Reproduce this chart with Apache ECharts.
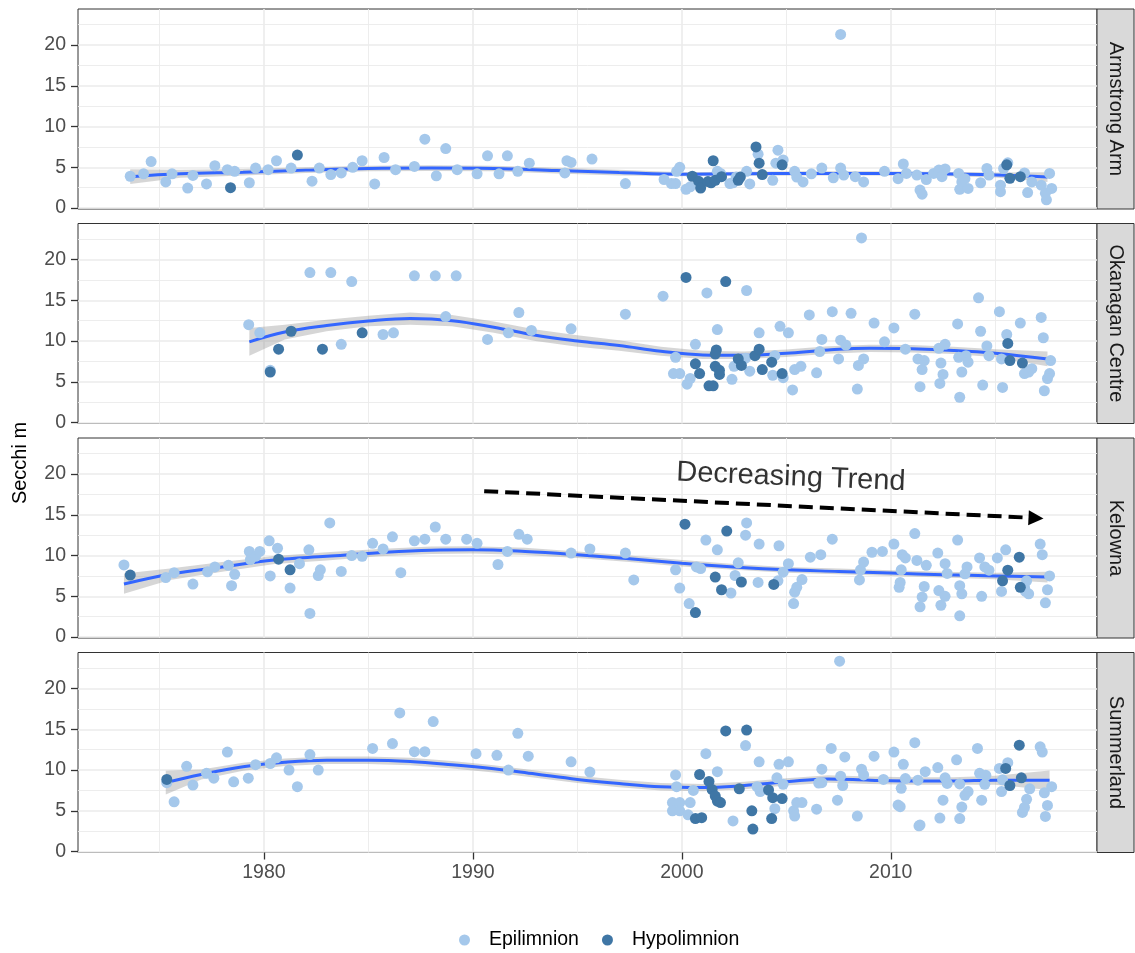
<!DOCTYPE html>
<html><head><meta charset="utf-8">
<script src="https://cdn.jsdelivr.net/npm/echarts@6.0.0/dist/echarts.min.js"></script>
<style>html,body{margin:0;padding:0;background:#fff}#c{width:1135px;height:953px}</style>
</head><body><div id="c"></div>
<script>
const FONT = '"Liberation Sans", Arial, sans-serif';
const sites = ['Armstrong Arm', 'Okanagan Centre', 'Kelowna', 'Summerland'];
const xMajor = [1980, 1990, 2000, 2010];
const xMinor = [1975, 1985, 1995, 2005, 2015];
const yMajor = [0, 5, 10, 15, 20];
const yMinor = [2.5, 7.5, 12.5, 17.5, 22.5];
const XMIN = 1971.10, XMAX = 2019.87, YMIN = -0.12, YMAX = 24.42;

// ---- Armstrong Arm ----
const armEpi = [[1973.6,3.9],[1974.24,4.2],[1974.6,5.7],[1975.3,3.2],[1975.6,4.2],[1976.35,2.45],[1976.6,4.0],[1977.25,2.95],[1977.65,5.2],[1978.25,4.7],[1978.6,4.5],[1979.3,3.1],[1979.6,4.9],[1980.2,4.7],[1980.6,5.8],[1981.3,4.9],[1982.3,3.3],[1982.65,4.9],[1983.2,4.1],[1983.7,4.3],[1984.25,5.0],[1984.7,5.8],[1985.3,2.95],[1985.75,6.2],[1986.3,4.7],[1987.2,5.1],[1987.7,8.45],[1988.25,3.95],[1988.7,7.3],[1989.25,4.7],[1990.2,4.2],[1990.7,6.4],[1991.25,4.2],[1991.65,6.4],[1992.15,4.5],[1992.7,5.5],[1994.4,4.3],[1994.5,5.8],[1994.7,5.6],[1995.7,6.0],[1997.3,3.0],[1999.15,3.5],[1999.5,3.0],[1999.7,3.0],[1999.75,4.5],[1999.9,5.0],[2000.2,2.3],[2000.4,2.6],[2001.7,4.5],[2001.85,4.25],[2002.3,3.0],[2002.45,3.1],[2002.6,3.8],[2003.1,4.5],[2003.25,2.95],[2003.65,6.6],[2004.35,3.4],[2004.5,5.5],[2004.6,7.1],[2004.85,5.9],[2005.4,4.5],[2005.5,3.8],[2005.8,3.2],[2006.2,4.2],[2006.7,4.9],[2007.25,3.7],[2007.6,4.9],[2007.75,4.05],[2007.6,21.3],[2008.3,3.85],[2008.7,3.2],[2009.7,4.5],[2010.35,3.6],[2010.6,5.4],[2010.75,4.25],[2011.25,4.05],[2011.4,2.2],[2011.5,1.7],[2011.7,3.5],[2012.05,4.25],[2012.3,4.65],[2012.45,3.85],[2012.6,4.8],[2013.25,4.25],[2013.3,2.3],[2013.4,3.2],[2013.55,3.6],[2013.7,2.4],[2014.3,3.1],[2014.6,4.85],[2014.7,4.05],[2015.25,2.0],[2015.25,2.8],[2015.4,4.85],[2015.6,5.55],[2016.4,4.3],[2016.55,1.9],[2016.75,3.2],[2017.2,2.8],[2017.4,1.8],[2017.45,1.0],[2017.6,4.25],[2017.7,2.4]];
const armHyp = [[1978.4,2.5],[1981.6,6.5],[2000.5,3.9],[2000.8,3.3],[2000.9,2.45],[2001.25,3.25],[2001.4,3.1],[2001.5,5.8],[2001.6,3.4],[2001.9,3.85],[2002.7,3.4],[2002.8,3.8],[2003.55,7.5],[2003.7,5.5],[2003.85,4.1],[2004.8,5.3],[2015.55,5.3],[2015.7,3.65],[2016.2,3.85]];
const armFitX = [1973.6,1976,1979,1982,1985,1988,1991,1994,1997,2000,2003,2006,2009,2012,2015,2017.5];
const armFit  = [3.85,4.2,4.4,4.65,4.85,4.9,4.85,4.6,4.35,4.15,4.2,4.25,4.25,4.2,4.05,3.8];
const armLo   = [2.95,3.7,4.0,4.3,4.5,4.55,4.5,4.25,4.0,3.9,3.95,4.0,4.0,3.95,3.75,3.2];
const armHi   = [4.75,4.7,4.8,5.0,5.2,5.25,5.2,4.95,4.7,4.4,4.45,4.5,4.5,4.45,4.35,4.4];

// ---- Okanagan Centre ----
const okaEpi = [[1979.27,12.0],[1979.8,11.0],[1980.3,6.4],[1982.2,18.4],[1983.2,18.4],[1983.7,9.6],[1984.2,17.3],[1985.7,10.8],[1986.2,11.0],[1987.2,18.0],[1988.2,18.0],[1988.7,13.0],[1989.2,18.0],[1990.7,10.2],[1991.7,11.0],[1992.2,13.5],[1992.8,11.3],[1994.7,11.5],[1997.3,13.3],[1999.1,15.5],[1999.7,8.0],[1999.6,6.0],[1999.9,6.0],[2000.25,4.7],[2000.4,5.4],[2000.65,9.6],[2001.2,15.9],[2001.7,11.4],[2002.4,5.3],[2002.5,6.9],[2003.1,16.2],[2003.05,7.9],[2003.25,6.3],[2003.7,11.0],[2004.45,8.2],[2004.35,5.8],[2004.7,11.8],[2004.85,5.5],[2005.1,11.0],[2005.3,4.0],[2005.4,6.5],[2005.7,6.9],[2006.1,13.2],[2006.45,6.1],[2006.6,8.7],[2006.7,10.2],[2007.2,13.6],[2007.5,7.8],[2007.6,10.1],[2007.85,9.5],[2008.1,13.4],[2008.4,4.1],[2008.45,7.0],[2008.7,7.8],[2008.6,22.65],[2009.2,12.2],[2009.7,9.9],[2010.15,11.6],[2010.7,9.0],[2011.15,13.3],[2011.3,7.8],[2011.5,6.5],[2011.4,4.4],[2011.6,7.6],[2012.35,4.8],[2012.4,7.3],[2012.5,5.9],[2012.3,9.1],[2012.6,9.6],[2013.2,12.1],[2013.3,3.1],[2013.4,6.2],[2013.25,8.0],[2013.6,8.2],[2013.7,7.4],[2014.2,15.3],[2014.3,11.2],[2014.4,4.6],[2014.6,9.4],[2014.7,8.2],[2015.2,13.6],[2015.3,7.8],[2015.35,4.3],[2015.55,10.8],[2016.2,12.2],[2016.4,6.0],[2016.6,6.2],[2016.75,6.6],[2017.2,12.9],[2017.3,10.4],[2017.65,7.6],[2017.6,6.0],[2017.5,5.4],[2017.35,3.9]];
const okaHyp = [[1980.3,6.2],[1980.7,9.0],[1981.3,11.2],[1982.8,9.0],[1984.7,11.0],[2000.2,17.8],[2000.65,7.2],[2000.85,6.0],[2001.3,4.5],[2001.5,4.5],[2001.65,8.9],[2001.6,8.4],[2001.6,6.9],[2001.8,6.4],[2001.8,5.9],[2002.1,17.3],[2002.7,7.8],[2002.85,7.0],[2003.5,8.2],[2003.7,9.0],[2003.85,6.5],[2004.3,7.4],[2004.8,6.0],[2015.6,9.7],[2015.7,7.6],[2016.3,7.3]];
const okaFitX = [1979.3,1981,1983,1985,1987,1989,1991,1993,1995,1997,1999,2001,2003,2005,2007,2009,2011,2013,2015,2017.5];
const okaFit  = [9.9,11.1,11.9,12.45,12.75,12.5,11.7,10.7,10.0,9.45,8.75,8.3,8.25,8.5,8.9,9.1,9.05,8.85,8.5,7.8];
const okaLo   = [8.2,10.2,11.2,11.8,12.0,11.8,11.0,10.0,9.3,8.8,8.2,7.8,7.8,8.05,8.45,8.65,8.6,8.4,8.0,6.9];
const okaHi   = [11.6,12.0,12.6,13.1,13.5,13.2,12.4,11.4,10.7,10.1,9.3,8.8,8.7,8.95,9.35,9.55,9.5,9.3,9.0,8.7];

// ---- Kelowna ----
const kelEpi = [[1973.3,8.85],[1975.3,7.3],[1975.7,7.9],[1976.6,6.5],[1977.3,8.0],[1977.65,8.6],[1978.3,8.8],[1978.45,6.3],[1978.6,7.7],[1979.3,10.5],[1979.35,9.5],[1979.6,9.9],[1979.8,10.5],[1980.25,11.8],[1980.3,7.5],[1980.65,10.9],[1981.25,6.0],[1981.7,9.0],[1982.15,10.7],[1982.2,2.9],[1982.6,7.55],[1982.7,8.25],[1983.15,14.0],[1983.7,8.05],[1984.2,10.0],[1984.7,9.9],[1985.2,11.5],[1985.7,10.8],[1986.15,12.3],[1986.55,7.9],[1987.2,11.8],[1987.7,12.0],[1988.2,13.5],[1988.7,12.0],[1989.7,12.0],[1990.2,11.5],[1991.2,8.9],[1991.65,10.5],[1992.2,12.6],[1992.6,12.0],[1994.7,10.3],[1995.6,10.8],[1997.3,10.3],[1997.7,7.0],[1999.7,8.25],[1999.9,6.0],[2000.35,4.1],[2000.7,8.6],[2000.9,8.4],[2001.15,11.9],[2001.7,10.7],[2002.35,5.4],[2002.55,7.55],[2002.7,9.1],[2003.05,12.5],[2003.1,14.0],[2003.65,6.7],[2003.7,11.4],[2004.6,6.9],[2004.65,11.2],[2004.85,7.95],[2005.1,9.0],[2005.35,4.1],[2005.4,5.5],[2005.5,6.1],[2005.75,7.05],[2006.15,9.8],[2006.65,10.1],[2007.2,12.0],[2008.5,7.0],[2008.55,8.25],[2008.7,9.2],[2009.1,10.4],[2009.6,10.5],[2010.15,11.4],[2010.4,6.1],[2010.45,6.7],[2010.5,8.25],[2010.55,10.1],[2010.7,9.7],[2011.15,12.7],[2011.25,9.4],[2011.7,8.8],[2011.4,3.7],[2011.5,4.9],[2011.6,6.2],[2012.25,10.3],[2012.3,5.7],[2012.4,3.9],[2012.6,5.0],[2012.6,9.0],[2012.7,7.8],[2013.2,11.9],[2013.3,6.3],[2013.4,5.3],[2013.3,2.6],[2013.55,7.75],[2013.65,8.6],[2014.25,9.7],[2014.35,5.0],[2014.5,8.6],[2014.7,8.2],[2015.1,9.7],[2015.5,10.7],[2015.3,5.6],[2016.4,6.1],[2016.5,6.9],[2016.6,5.3],[2016.45,5.6],[2017.15,11.4],[2017.25,10.1],[2017.5,5.8],[2017.4,4.2],[2017.6,7.5]];
const kelHyp = [[1973.6,7.6],[1980.7,9.55],[1981.25,8.25],[2000.15,13.85],[2000.65,3.0],[2001.6,7.35],[2001.9,5.8],[2002.15,13.0],[2002.85,6.75],[2004.4,6.45],[2015.35,6.9],[2015.6,8.2],[2016.15,9.8],[2016.2,6.1]];
const kelFitX = [1973.3,1975.5,1978,1980.5,1983,1985.5,1988,1990,1992.5,1995,1997.5,2000,2002.5,2005,2007.5,2010,2012.5,2015,2017.5];
const kelFit  = [6.5,7.7,8.6,9.45,9.9,10.35,10.65,10.7,10.5,10.1,9.6,9.05,8.6,8.25,8.05,7.85,7.65,7.5,7.35];
const kelLo   = [5.3,7.0,8.0,8.95,9.4,9.9,10.2,10.25,10.05,9.7,9.2,8.65,8.25,7.9,7.7,7.5,7.3,7.1,6.7];
const kelHi   = [7.8,8.4,9.2,9.95,10.4,10.8,11.1,11.15,10.95,10.5,10.0,9.45,8.95,8.6,8.4,8.2,8.0,7.9,8.0];

// ---- Summerland ----
const sumEpi = [[1975.35,8.45],[1975.7,6.1],[1976.3,10.45],[1976.6,8.15],[1977.25,9.6],[1977.6,9.0],[1978.25,12.2],[1978.55,8.55],[1979.25,9.0],[1979.6,10.65],[1980.3,10.8],[1980.6,11.5],[1981.2,10.0],[1981.6,7.95],[1982.2,11.9],[1982.6,10.0],[1985.2,12.65],[1986.15,13.25],[1986.5,17.0],[1987.2,12.25],[1987.7,12.25],[1988.1,15.95],[1990.15,12.0],[1991.15,11.8],[1991.7,10.0],[1992.15,14.5],[1992.65,11.7],[1994.7,11.0],[1995.6,9.75],[1999.7,9.4],[1999.75,7.95],[1999.55,6.0],[1999.9,6.0],[1999.55,5.0],[1999.9,5.0],[2000.3,4.5],[2000.4,6.0],[2000.55,7.5],[2001.15,12.0],[2001.7,9.8],[2002.45,3.75],[2003.05,13.0],[2003.6,7.95],[2003.75,7.35],[2003.7,11.0],[2004.45,5.25],[2004.55,9.05],[2004.85,8.25],[2004.65,10.7],[2005.1,11.0],[2005.35,5.0],[2005.4,4.35],[2005.5,6.0],[2005.75,6.0],[2006.45,5.2],[2006.55,8.4],[2006.7,8.45],[2006.7,10.1],[2007.15,12.65],[2007.45,6.3],[2007.55,23.35],[2007.6,9.25],[2007.7,8.1],[2007.8,11.6],[2008.4,4.35],[2008.6,10.1],[2008.7,9.4],[2009.2,11.7],[2009.65,8.85],[2010.15,12.2],[2010.35,5.7],[2010.45,5.5],[2010.5,7.75],[2010.6,10.7],[2010.7,8.95],[2011.15,13.35],[2011.3,8.75],[2011.65,9.8],[2011.35,3.15],[2011.4,3.25],[2012.25,10.3],[2012.35,4.1],[2012.5,6.3],[2012.6,9.05],[2012.7,8.35],[2013.15,11.25],[2013.3,8.3],[2013.3,4.05],[2013.4,5.45],[2013.55,6.9],[2013.7,7.35],[2014.15,12.65],[2014.25,9.6],[2014.55,9.35],[2014.5,8.25],[2014.35,6.3],[2015.2,10.2],[2015.3,7.35],[2015.35,8.8],[2015.6,10.9],[2016.3,4.8],[2016.4,5.4],[2016.5,6.4],[2016.65,7.7],[2017.15,12.85],[2017.25,12.2],[2017.35,7.2],[2017.5,5.65],[2017.4,4.3],[2017.7,7.95]];
const sumHyp = [[1975.35,8.85],[2000.65,4.05],[2000.95,4.15],[2000.85,9.45],[2001.3,8.6],[2001.45,7.6],[2001.6,6.8],[2001.7,6.2],[2001.85,6.0],[2002.1,14.8],[2002.75,7.7],[2003.1,14.9],[2003.35,5.0],[2003.4,2.75],[2004.15,7.55],[2004.35,6.6],[2004.8,6.5],[2004.3,4.05],[2015.5,10.2],[2015.7,8.1],[2016.15,13.05],[2016.25,9.05]];
const sumFitX = [1975.3,1977,1979,1981,1983,1985,1987,1989,1991,1993,1995,1997,1999,2001,2003,2005,2007,2009,2011,2013,2015,2017.6];
const sumFit  = [8.45,9.45,10.4,10.95,11.2,11.2,11.05,10.65,10.15,9.5,8.85,8.35,7.95,7.85,8.1,8.55,8.9,8.75,8.65,8.65,8.75,8.75];
const sumLo   = [7.0,8.85,9.9,10.5,10.75,10.75,10.6,10.2,9.7,9.05,8.4,7.9,7.5,7.4,7.65,8.1,8.45,8.3,8.2,8.2,8.2,7.55];
const sumHi   = [9.9,10.05,10.9,11.4,11.65,11.65,11.5,11.1,10.6,9.95,9.3,8.8,8.4,8.3,8.55,9.0,9.35,9.2,9.1,9.1,9.3,9.95];

// annotation (Kelowna panel)
const arrowFrom = [1990.54, 17.9];
const arrowTo = [2016.95, 14.6];
const noteAt = [2005.22, 19.6];
const noteText = 'Decreasing Trend';

const panels = [
  {epi: armEpi, hyp: armHyp, fx: armFitX, fit: armFit, lo: armLo, hi: armHi},
  {epi: okaEpi, hyp: okaHyp, fx: okaFitX, fit: okaFit, lo: okaLo, hi: okaHi},
  {epi: kelEpi, hyp: kelHyp, fx: kelFitX, fit: kelFit, lo: kelLo, hi: kelHi},
  {epi: sumEpi, hyp: sumHyp, fx: sumFitX, fit: sumFit, lo: sumLo, hi: sumHi}
];

const LEFT = 78, WIDTH = 1019, H = 200, TOPS = [9, 223.5, 438, 652.5];
const STRIP_X = 1097, STRIP_W = 37;
const LIGHT = '#A5C8EB', DARK = '#3F76A5';
const plain = function (v) { return String(v); };

const grids = [], xAxes = [], yAxes = [], series = [], graphics = [];
TOPS.forEach(function (t, gi) {
  grids.push({left: LEFT, top: t, width: WIDTH, height: H, show: true, borderColor: '#333333', borderWidth: 1, backgroundColor: 'transparent'});
  const bottom = gi === 3;
  xAxes.push({gridIndex: gi, type: 'value', min: XMIN, max: XMAX,
    axisLine: {show: false, onZero: false},
    axisTick: {show: bottom, customValues: xMajor, length: 7, lineStyle: {color: '#333333', width: 1.3}},
    axisLabel: {show: bottom, customValues: xMajor, formatter: plain, color: '#4D4D4D', fontSize: 19.5, fontFamily: FONT, margin: 10},
    splitLine: {show: true, lineStyle: {color: '#EBEBEB', width: 1.6}}});
  xAxes.push({gridIndex: gi, type: 'value', min: XMIN, max: XMAX,
    axisLine: {show: false, onZero: false},
    axisTick: {show: false, customValues: xMinor},
    axisLabel: {show: false},
    splitLine: {show: true, lineStyle: {color: '#EBEBEB', width: 0.9}}});
  yAxes.push({gridIndex: gi, type: 'value', min: YMIN, max: YMAX, position: 'left',
    axisLine: {show: false, onZero: false},
    axisTick: {show: true, customValues: yMajor, length: 7, lineStyle: {color: '#333333', width: 1.3}},
    axisLabel: {show: true, customValues: yMajor, formatter: plain, color: '#4D4D4D', fontSize: 19.5, fontFamily: FONT, margin: 12},
    splitLine: {show: true, lineStyle: {color: '#EBEBEB', width: 1.6}}});
  yAxes.push({gridIndex: gi, type: 'value', min: YMIN, max: YMAX, position: 'left',
    axisLine: {show: false, onZero: false},
    axisTick: {show: false, customValues: yMinor},
    axisLabel: {show: false},
    splitLine: {show: true, lineStyle: {color: '#EBEBEB', width: 0.9}}});

  const p = panels[gi];
  const xi = gi * 2, yi = gi * 2;
  series.push({type: 'custom', name: 'ribbon' + gi, xAxisIndex: xi, yAxisIndex: yi, silent: true, z: 2, clip: true,
    data: p.fx.map(function (x, i) { return [x, p.lo[i], p.hi[i]]; }),
    encode: {x: 0, y: [1, 2]},
    renderItem: function (params, api) {
      if (params.dataIndex !== 0) return null;
      const pts = [];
      for (let i = 0; i < p.fx.length; i++) pts.push(api.coord([p.fx[i], p.hi[i]]));
      for (let i = p.fx.length - 1; i >= 0; i--) pts.push(api.coord([p.fx[i], p.lo[i]]));
      return {type: 'polygon', shape: {points: pts}, style: {fill: 'rgba(153,153,153,0.4)'}};
    }});
  series.push({type: 'line', name: 'fit' + gi, xAxisIndex: xi, yAxisIndex: yi, silent: true, z: 3,
    data: p.fx.map(function (x, i) { return [x, p.fit[i]]; }),
    smooth: 0.4, symbol: 'none', showSymbol: false, lineStyle: {color: '#3366FF', width: 3}});
  series.push({type: 'scatter', name: 'Epilimnion', xAxisIndex: xi, yAxisIndex: yi, z: 4, silent: true,
    data: p.epi, symbolSize: 11, itemStyle: {color: LIGHT, opacity: 1}});
  series.push({type: 'scatter', name: 'Hypolimnion', xAxisIndex: xi, yAxisIndex: yi, z: 5, silent: true,
    data: p.hyp, symbolSize: 11, itemStyle: {color: DARK, opacity: 1}});

  graphics.push({type: 'rect', shape: {x: STRIP_X, y: t, width: STRIP_W, height: H},
    style: {fill: '#D9D9D9', stroke: '#333333', lineWidth: 1}});
  graphics.push({type: 'text', x: STRIP_X + STRIP_W / 2, y: t + H / 2, rotation: -Math.PI / 2,
    style: {text: sites[gi], fill: '#1A1A1A', fontSize: 20, fontFamily: FONT, align: 'center', verticalAlign: 'middle'}});
});

// annotation on Kelowna panel
series.push({type: 'scatter', name: 'note', xAxisIndex: 4, yAxisIndex: 4, z: 6, silent: true,
  data: [noteAt], symbolSize: 2, itemStyle: {color: 'rgba(0,0,0,0)'},
  label: {show: true, position: 'inside', formatter: noteText, fontSize: 29, fontFamily: FONT, color: '#000', rotate: -2.4},
  markLine: {silent: true, symbol: ['none', 'triangle'], symbolSize: [15, 15], animation: false,
    lineStyle: {color: '#000', width: 4, type: [14, 7]}, label: {show: false},
    data: [[{coord: arrowFrom}, {coord: arrowTo}]]}});

graphics.push({type: 'text', x: 20, y: 463, rotation: Math.PI / 2,
  style: {text: 'Secchi m', fill: '#000', fontSize: 20, fontFamily: FONT, align: 'center', verticalAlign: 'middle'}});

const chart = echarts.init(document.getElementById('c'), null, {renderer: 'canvas'});
chart.setOption({
  animation: false,
  backgroundColor: '#ffffff',
  textStyle: {fontFamily: FONT},
  grid: grids, xAxis: xAxes, yAxis: yAxes, series: series, graphic: graphics,
  legend: {data: ['Epilimnion', 'Hypolimnion'], left: 454, top: 925, icon: 'circle', itemWidth: 11, itemHeight: 11,
    itemGap: 23, selectedMode: false, textStyle: {fontSize: 19.5, color: '#000', fontFamily: FONT, padding: [0, 0, 0, 14]}}
});
</script></body></html>
